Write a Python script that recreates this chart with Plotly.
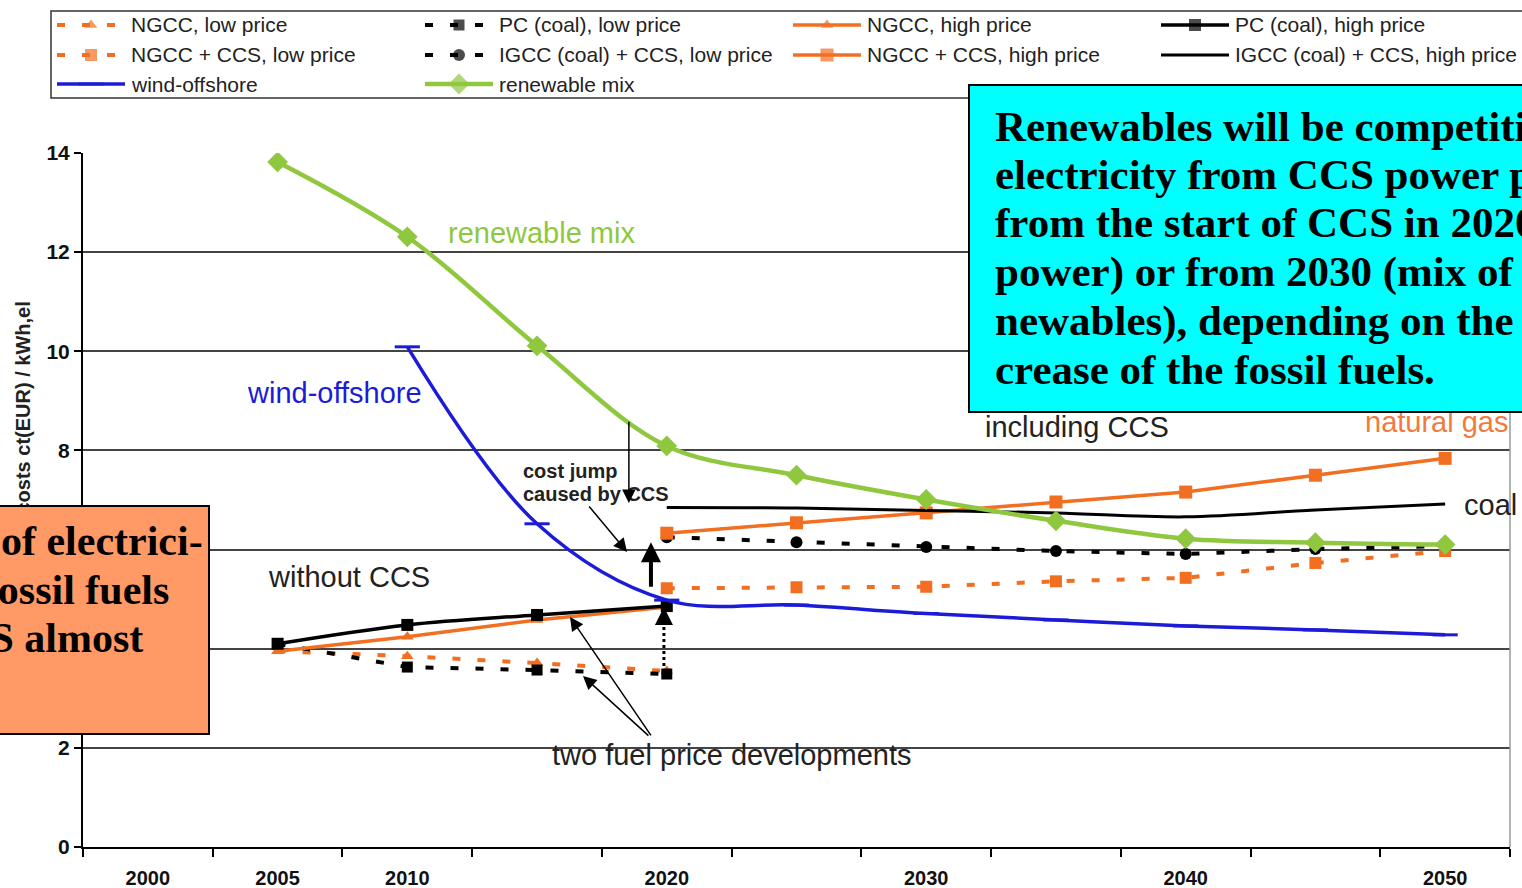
import plotly.graph_objects as go

W, H = 1522, 888

# ---------------- data ----------------
years_fossil = [2005, 2010, 2015, 2020]
years_ccs = [2020, 2025, 2030, 2035, 2040, 2045, 2050]
years_wind = [2010, 2015, 2020, 2025, 2030, 2035, 2040, 2045, 2050]
years_mix = [2005, 2010, 2015, 2020, 2025, 2030, 2035, 2040, 2045, 2050]

ngcc_low = [3.95, 3.85, 3.71, 3.55]
pc_low = [4.10, 3.63, 3.57, 3.49]
ngcc_high = [3.95, 4.24, 4.58, 4.84]
pc_high = [4.10, 4.48, 4.68, 4.86]
ngcc_ccs_low = [5.22, 5.24, 5.25, 5.36, 5.43, 5.73, 5.97]
igcc_ccs_low = [6.25, 6.15, 6.05, 5.97, 5.91, 6.01, 6.07]
ngcc_ccs_high = [6.33, 6.54, 6.74, 6.96, 7.16, 7.50, 7.84]
igcc_ccs_high = [6.85, 6.84, 6.79, 6.74, 6.66, 6.80, 6.92]
wind_offshore = [10.09, 6.52, 4.98, 4.88, 4.71, 4.58, 4.46, 4.38, 4.28]
renewable_mix = [13.82, 12.31, 10.11, 8.09, 7.50, 7.01, 6.58, 6.22, 6.14, 6.10]

x_tick_years = [2000, 2005, 2010, 2020, 2030, 2040, 2050]
x_tick_labels = ["2000", "2005", "2010", "2020", "2030", "2040", "2050"]
x_category_edges = [1997.5, 2002.5, 2007.5, 2012.5, 2017.5, 2022.5,
                    2027.5, 2032.5, 2037.5, 2042.5, 2047.5, 2052.5]
y_tick_values = [0, 2, 4, 6, 8, 10, 12, 14]

# ---------------- styles ----------------
ORANGE = "#f26f22"
BLACK = "#000000"
BLUE = "#1c1cd8"
GREEN = "#8fc73e"
DASH = "8px,17px"
SANS = "Liberation Sans"
SERIF = "Liberation Serif"


def px(p):
    return p / W


def py(p):
    return 1 - p / H


series = [
    dict(name="NGCC, low price", x=years_fossil, y=ngcc_low, color=ORANGE,
         dash=DASH, width=4, symbol="triangle-up", size=11, shape="linear"),
    dict(name="PC (coal), low price", x=years_fossil, y=pc_low, color=BLACK,
         dash=DASH, width=4, symbol="square", size=11, shape="linear"),
    dict(name="NGCC, high price", x=years_fossil, y=ngcc_high, color=ORANGE,
         dash="solid", width=3.5, symbol="triangle-up", size=11, shape="linear"),
    dict(name="PC (coal), high price", x=years_fossil, y=pc_high, color=BLACK,
         dash="solid", width=3.5, symbol="square", size=12, shape="spline"),
    dict(name="NGCC + CCS, low price", x=years_ccs, y=ngcc_ccs_low, color=ORANGE,
         dash=DASH, width=4, symbol="square", size=12, shape="linear"),
    dict(name="IGCC (coal) + CCS, low price", x=years_ccs, y=igcc_ccs_low, color=BLACK,
         dash=DASH, width=4, symbol="circle", size=12, shape="linear"),
    dict(name="NGCC + CCS, high price", x=years_ccs, y=ngcc_ccs_high, color=ORANGE,
         dash="solid", width=3.5, symbol="square", size=13, shape="linear"),
    dict(name="IGCC (coal) + CCS, high price", x=years_ccs, y=igcc_ccs_high, color=BLACK,
         dash="solid", width=3, symbol=None, size=0, shape="spline"),
    dict(name="wind-offshore", x=years_wind, y=wind_offshore, color=BLUE,
         dash="solid", width=3.5, symbol="line-ew", size=18, shape="spline"),
    dict(name="renewable mix", x=years_mix, y=renewable_mix, color=GREEN,
         dash="solid", width=4.5, symbol="diamond", size=16, shape="spline"),
]


def marker_for(s, sizes):
    if s["symbol"] is None:
        return None
    if s["symbol"] == "line-ew":
        return dict(symbol="line-ew", size=sizes, line=dict(width=3, color=s["color"]))
    return dict(symbol=s["symbol"], size=sizes, color=s["color"], line=dict(width=0))


fig = go.Figure()

for s in series:
    mk = marker_for(s, s["size"])
    fig.add_trace(go.Scatter(
        x=s["x"], y=s["y"], name=s["name"],
        mode="lines+markers" if mk else "lines",
        line=dict(color=s["color"], width=s["width"], dash=s["dash"], shape=s["shape"]),
        marker=mk, showlegend=False, hoverinfo="skip",
        xaxis="x", yaxis="y",
    ))

# ---------------- legend (drawn on a pixel-scaled overlay axis) ----------------
LEG_COL_X = [57, 425, 793, 1161]
LEG_ROW_Y = [25, 55, 84]
SAMPLE_LEN = 68
annotations = []
legend_texts = []
for i, s in enumerate(series):
    row, col = divmod(i, 4)
    x0 = LEG_COL_X[col]
    x1 = x0 + SAMPLE_LEN
    yy = LEG_ROW_Y[row]
    mk = marker_for(s, [0, s["size"], 0])
    fig.add_trace(go.Scatter(
        x=[x0, (x0 + x1) / 2, x1], y=[yy, yy, yy],
        mode="lines+markers" if mk else "lines",
        line=dict(color=s["color"], width=s["width"], dash=s["dash"]),
        marker=mk, showlegend=False, hoverinfo="skip",
        xaxis="x2", yaxis="y2",
    ))
    legend_texts.append(dict(
        x=px(x1 + 4), y=py(yy), xref="paper", yref="paper",
        xanchor="left", yanchor="middle", showarrow=False,
        text=s["name"], font=dict(family=SANS, size=21, color="#222"),
    ))

# ---------------- annotations ----------------
# y-axis title (placed first so the orange note can cover part of it)
annotations.append(dict(
    x=px(22), y=py(300), xref="paper", yref="paper", xanchor="center", yanchor="top",
    textangle=-90, showarrow=False,
    text="<b>Electricity generation costs ct(EUR) / kWh,el</b>",
    font=dict(family=SANS, size=20, color="#222"),
))

labels = [
    ("renewable mix", 541, 233, GREEN),
    ("wind-offshore", 334, 393, BLUE),
    ("without CCS", 349, 577, "#222"),
    ("including CCS", 1077, 427, "#222"),
    ("natural gas", 1437, 422, "#f07b3f"),
    ("coal", 1490, 505, "#222"),
    ("two fuel price developments", 731, 755, "#222"),
]
for txt, cx, cy, col in labels:
    annotations.append(dict(
        x=px(cx), y=py(cy), xref="paper", yref="paper", xanchor="center", yanchor="middle",
        showarrow=False, text=txt, font=dict(family=SANS, size=29, color=col),
    ))

for txt, cy in [("cost jump", 471), ("caused by CCS", 494)]:
    annotations.append(dict(
        x=px(521), y=py(cy), xref="paper", yref="paper", xanchor="left", yanchor="middle",
        showarrow=False, text="<b>" + txt + "</b>", font=dict(family=SANS, size=20, color="#222"),
    ))

# arrows: (tip_x, tip_y, tail_x, tail_y, width, size)
arrow_specs = [
    (2018.54, 6.94, 2018.54, 8.61, 1.5, 1.8),
    (2018.47, 5.95, 2016.96, 6.90, 1.5, 1.8),
    (2019.39, 6.15, 2019.39, 5.22, 4.0, 1.0),
    (2019.89, 4.84, 2019.89, 4.55, 3.0, 1.2),
    (2016.27, 4.64, 2019.43, 2.22, 1.5, 1.8),
    (2016.77, 3.45, 2019.35, 2.22, 1.5, 1.8),
]
for tx, ty, ax, ay, w, sz in arrow_specs:
    annotations.append(dict(
        x=tx, y=ty, ax=ax, ay=ay, xref="x", yref="y", axref="x", ayref="y",
        showarrow=True, arrowhead=2, arrowsize=sz, arrowwidth=w, arrowcolor="black", text="",
    ))

annotations.extend(legend_texts)

# cyan note box
annotations.append(dict(
    x=px(968), y=py(84), xref="paper", yref="paper", xanchor="left", yanchor="top",
    width=700, height=325, bgcolor="#00ffff", bordercolor="black", borderwidth=2,
    borderpad=0, showarrow=False, text=" ",
))
cyan_lines = [
    "Renewables will be competitive with",
    "electricity from CCS power plants",
    "from the start of CCS in 2020 (wind",
    "power) or from 2030 (mix of re-",
    "newables), depending on the price in-",
    "crease of the fossil fuels.",
]
for i, line in enumerate(cyan_lines):
    annotations.append(dict(
        x=px(993), y=py(126 + 48.7 * i), xref="paper", yref="paper",
        xanchor="left", yanchor="middle", showarrow=False,
        text="<b>" + line + "</b>", font=dict(family=SERIF, size=43, color="black"),
    ))

# orange note box
annotations.append(dict(
    x=px(210), y=py(505), xref="paper", yref="paper", xanchor="right", yanchor="top",
    width=400, height=226, bgcolor="#ff9966", bordercolor="black", borderwidth=2,
    borderpad=0, showarrow=False, text=" ",
))
orange_lines = [
    "The cost of electrici-",
    "ty from fossil fuels",
    "with CCS almost",
    "doubles.",
]
for i, line in enumerate(orange_lines):
    annotations.append(dict(
        x=px(-162), y=py(541 + 48.5 * i), xref="paper", yref="paper",
        xanchor="left", yanchor="middle", showarrow=False,
        text="<b>" + line + "</b>", font=dict(family=SERIF, size=42, color="black"),
    ))

shapes = [
    # legend frame
    dict(type="rect", xref="paper", yref="paper", x0=px(51), x1=px(1560), y0=py(98), y1=py(11),
         line=dict(color="#333", width=1.5), fillcolor="rgba(0,0,0,0)", layer="above"),
    # right border of plot area
    dict(type="line", xref="paper", yref="paper", x0=px(1510), x1=px(1510), y0=py(847), y1=py(153),
         line=dict(color="#999", width=1.5), layer="above"),
    # dotted shaft of the "without CCS" jump arrow
    dict(type="line", xref="x", yref="y", x0=2019.89, x1=2019.89, y0=3.53, y1=4.6,
         line=dict(color="black", width=3, dash="dot"), layer="above"),
]

fig.update_layout(
    width=W, height=H, autosize=False,
    margin=dict(l=0, r=0, t=0, b=0, autoexpand=False),
    paper_bgcolor="white", plot_bgcolor="rgba(0,0,0,0)",
    showlegend=False,
    xaxis=dict(
        domain=[px(83), px(1510)], range=[1997.5, 2052.5], automargin=False,
        tickmode="array", tickvals=x_tick_years, ticktext=x_tick_labels,
        ticks="", ticklabelstandoff=12,
        tickfont=dict(family=SANS, size=20, color="#111", weight="bold"),
        showgrid=False, zeroline=False, showline=True, linecolor="black", linewidth=2,
        minor=dict(tickmode="array", tickvals=x_category_edges, ticks="outside",
                   ticklen=8, tickwidth=1.5, tickcolor="black", showgrid=False),
        fixedrange=True,
    ),
    yaxis=dict(
        domain=[1 - 847 / H, 1 - 153 / H], range=[0, 14], automargin=False,
        tickmode="array", tickvals=y_tick_values,
        ticks="outside", ticklen=7, tickwidth=1.5, tickcolor="black",
        tickfont=dict(family=SANS, size=21, color="#111", weight="bold"),
        showgrid=True, gridcolor="#444", gridwidth=1.5,
        zeroline=False, showline=True, linecolor="black", linewidth=2,
        fixedrange=True,
    ),
    xaxis2=dict(domain=[0, 1], range=[0, W], visible=False, anchor="y2",
                automargin=False, fixedrange=True),
    yaxis2=dict(domain=[0, 1], range=[H, 0], visible=False, anchor="x2",
                automargin=False, fixedrange=True),
    annotations=annotations,
    shapes=shapes,
)

fig.write_html("out.html")
